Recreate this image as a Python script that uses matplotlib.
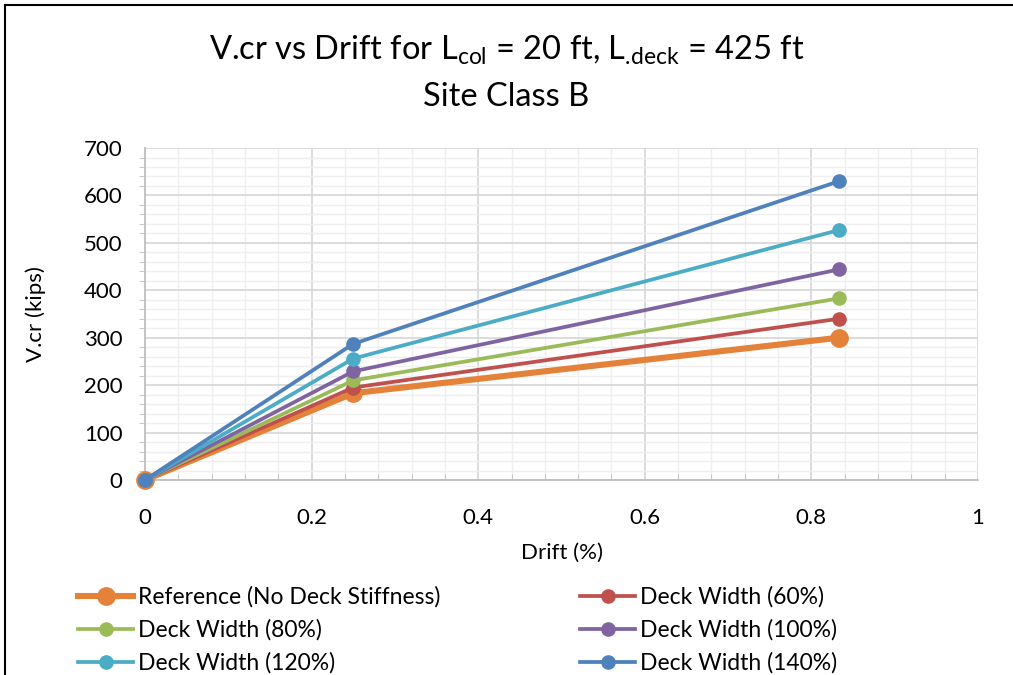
import matplotlib
matplotlib.use("Agg")
import matplotlib.pyplot as plt
from matplotlib.lines import Line2D
from matplotlib.ticker import MultipleLocator

plt.rcParams["font.family"] = ["Lato", "DejaVu Sans"]
plt.rcParams["mathtext.fontset"] = "custom"
plt.rcParams["mathtext.rm"] = "Lato"
plt.rcParams["mathtext.it"] = "Lato"

# data
drift = [0, 0.25, 0.833]
series_names = [
    "Reference (No Deck Stiffness)",
    "Deck Width (60%)",
    "Deck Width (80%)",
    "Deck Width (100%)",
    "Deck Width (120%)",
    "Deck Width (140%)",
]
v_ref = [0, 183, 300]
v_60 = [0, 195, 340]
v_80 = [0, 210, 383]
v_100 = [0, 229, 444]
v_120 = [0, 256, 527]
v_140 = [0, 287, 630]
colours = ["#E5823A", "#C0504D", "#9BBB59", "#8064A2", "#4BACC6", "#4F81BD"]

fig = plt.figure(figsize=(10.13, 6.75), dpi=100)
ax = fig.add_axes([0.1431, 0.2889, 0.8224, 0.4918])

handles = []
for i, (name, ys) in enumerate(zip(series_names, [v_ref, v_60, v_80, v_100, v_120, v_140])):
    if i == 0:
        lw, ms = 4.4, 12.5
    else:
        lw, ms = 2.7, 9.5
    (h,) = ax.plot(drift, ys, color=colours[i], lw=lw, marker="o", ms=ms,
                   label=name, zorder=3 + i, clip_on=False)
    handles.append(h)

ax.set_xlim(0, 1)
ax.set_ylim(0, 700)
ax.xaxis.set_major_locator(MultipleLocator(0.2))
ax.xaxis.set_minor_locator(MultipleLocator(0.04))
ax.yaxis.set_major_locator(MultipleLocator(100))
ax.yaxis.set_minor_locator(MultipleLocator(20))
ax.xaxis.set_major_formatter(plt.FuncFormatter(lambda v, p: f"{v:g}"))

ax.grid(which="major", color="#d9d9d9", lw=1.3, zorder=0)
ax.grid(which="minor", color="#efefef", lw=1.0, zorder=0)
ax.set_axisbelow(True)
for side in ["top", "right"]:
    ax.spines[side].set_visible(False)
for side in ["left", "bottom"]:
    ax.spines[side].set_color("#bfbfbf")
    ax.spines[side].set_linewidth(1.3)

ax.tick_params(which="major", length=0, labelsize=16, colors="black")
ax.tick_params(axis="y", which="major", pad=16)
ax.tick_params(axis="x", which="major", pad=20)
ax.tick_params(axis="y", which="minor", length=4, color="#bfbfbf", direction="out")
ax.tick_params(axis="x", which="minor", length=4, color="#bfbfbf", direction="in")

ax.set_xlabel("Drift (%)", fontsize=16, labelpad=11)
ax.set_ylabel("V.cr (kips)", fontsize=16, labelpad=27)

fig.text(0.5, 0.925,
         r"V.cr vs Drift for L$_{\mathrm{col}}$ = 20 ft, L$_{\mathrm{.\!deck}}$ = 425 ft",
         ha="center", va="center", fontsize=23.5)
fig.text(0.5, 0.856, "Site Class B", ha="center", va="center", fontsize=23.5)

order = [0, 2, 4, 1, 3, 5]
leg = fig.legend([handles[k] for k in order], [series_names[k] for k in order],
                 ncol=2, loc="upper left", bbox_to_anchor=(0.068, 0.145),
                 frameon=False, fontsize=16.5, handlelength=2.4, handletextpad=0.22,
                 columnspacing=6.1, labelspacing=0.5, borderaxespad=0)

# chart border (top and left visible in the reference)
fig.add_artist(Line2D([0.005, 1.0], [0.992, 0.992], color="black", lw=1.5,
                      transform=fig.transFigure))
fig.add_artist(Line2D([0.005, 0.005], [0.0, 0.992], color="black", lw=1.5,
                      transform=fig.transFigure))

fig.savefig("out.png", dpi=100)
